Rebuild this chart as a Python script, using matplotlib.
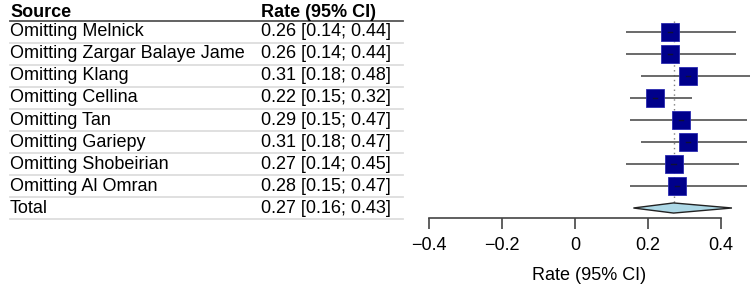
import matplotlib
matplotlib.use('Agg')
import matplotlib.pyplot as plt
from matplotlib.transforms import blended_transform_factory
import numpy as np

plt.rcParams['font.family'] = ['Liberation Sans', 'DejaVu Sans']

# leave-one-out data
sources = ['Omitting Melnick', 'Omitting Zargar Balaye Jame', 'Omitting Klang',
           'Omitting Cellina', 'Omitting Tan', 'Omitting Gariepy',
           'Omitting Shobeirian', 'Omitting Al Omran']
rate = [0.26, 0.26, 0.31, 0.22, 0.29, 0.31, 0.27, 0.28]
lower = [0.14, 0.14, 0.18, 0.15, 0.15, 0.18, 0.14, 0.15]
upper = [0.44, 0.44, 0.48, 0.32, 0.47, 0.47, 0.45, 0.47]
total_label = 'Total'
total_rate, total_lower, total_upper = 0.27, 0.16, 0.43
xticks = [-0.4, -0.2, 0, 0.2, 0.4]
xticklabels = ['\u22120.4', '\u22120.2', '0', '0.2', '0.4']

W, H = 750, 289
fig = plt.figure(figsize=(W / 100, H / 100), dpi=100)

# axes: left edge at x=-0.4 (px 429), bottom at the axis line (px 218)
ax = fig.add_axes([429 / W, 1 - 218 / H, 321 / W, 218 / H])
ax.set_xlim(-0.4, 0.4 + 29 / 365)
ax.set_ylim(8.4545, -1.4545)

n = len(sources)
ys = np.arange(n)

# CI lines and squares
for y, r, lo, hi in zip(ys, rate, lower, upper):
    ax.plot([lo, hi], [y, y], color='#505050', lw=1.2, zorder=2, solid_capstyle='butt')
    ax.plot(r, y, marker='s', markersize=12.5, markerfacecolor='#00008b',
            markeredgecolor='#2a2ab0', markeredgewidth=0.6, zorder=3)
    ax.plot([r - 0.006, r + 0.006], [y, y], color='#111133', lw=1, zorder=4)

# pooled estimate line
ax.plot([total_rate, total_rate], [-0.5, n - 0.25], color='#808080', lw=1,
        linestyle=(0, (1, 2.5)), zorder=1)

# diamond
yt = n
ax.fill([total_lower, total_rate, total_upper, total_rate],
        [yt, yt - 0.23, yt, yt + 0.23], facecolor='#add8e6',
        edgecolor='#222222', lw=1, zorder=3)

# axis styling
for s in ['top', 'right', 'left']:
    ax.spines[s].set_visible(False)
ax.spines['bottom'].set_bounds(-0.4, 0.4)
ax.spines['bottom'].set_color('#444444')
ax.spines['bottom'].set_linewidth(1.2)
ax.set_yticks([])
ax.set_xticks(xticks)
ax.set_xticklabels(xticklabels, fontsize=13)
ax.tick_params(axis='x', length=8, width=1.2, color='#444444', pad=6)
ax.set_xlabel('Rate (95% CI)', fontsize=13, labelpad=9)

# table on the left
tr = blended_transform_factory(fig.transFigure, ax.transData)
x_src = 10 / W
x_rate = 261 / W
x_end = 403 / W

ax.text(x_src, -0.88, 'Source', transform=tr, fontsize=13, fontweight='bold',
        va='center', ha='left', clip_on=False)
ax.text(x_rate, -0.88, 'Rate (95% CI)', transform=tr, fontsize=13, fontweight='bold',
        va='center', ha='left', clip_on=False)
ax.plot([x_src, x_end], [-0.5, -0.5], transform=tr, color='#555555', lw=1.3,
        clip_on=False)

labels = sources + [total_label]
rates = rate + [total_rate]
los = lower + [total_lower]
his = upper + [total_upper]
for i, (lab, r, lo, hi) in enumerate(zip(labels, rates, los, his)):
    ax.text(x_src, i, lab, transform=tr, fontsize=13, va='center', ha='left',
            clip_on=False)
    ax.text(x_rate, i, '%.2f [%.2f; %.2f]' % (r, lo, hi), transform=tr,
            fontsize=13, va='center', ha='left', clip_on=False)
    ax.plot([x_src, x_end], [i + 0.5, i + 0.5], transform=tr, color='#dddddd',
            lw=1.3, clip_on=False)

fig.savefig('out.png', dpi=100)
